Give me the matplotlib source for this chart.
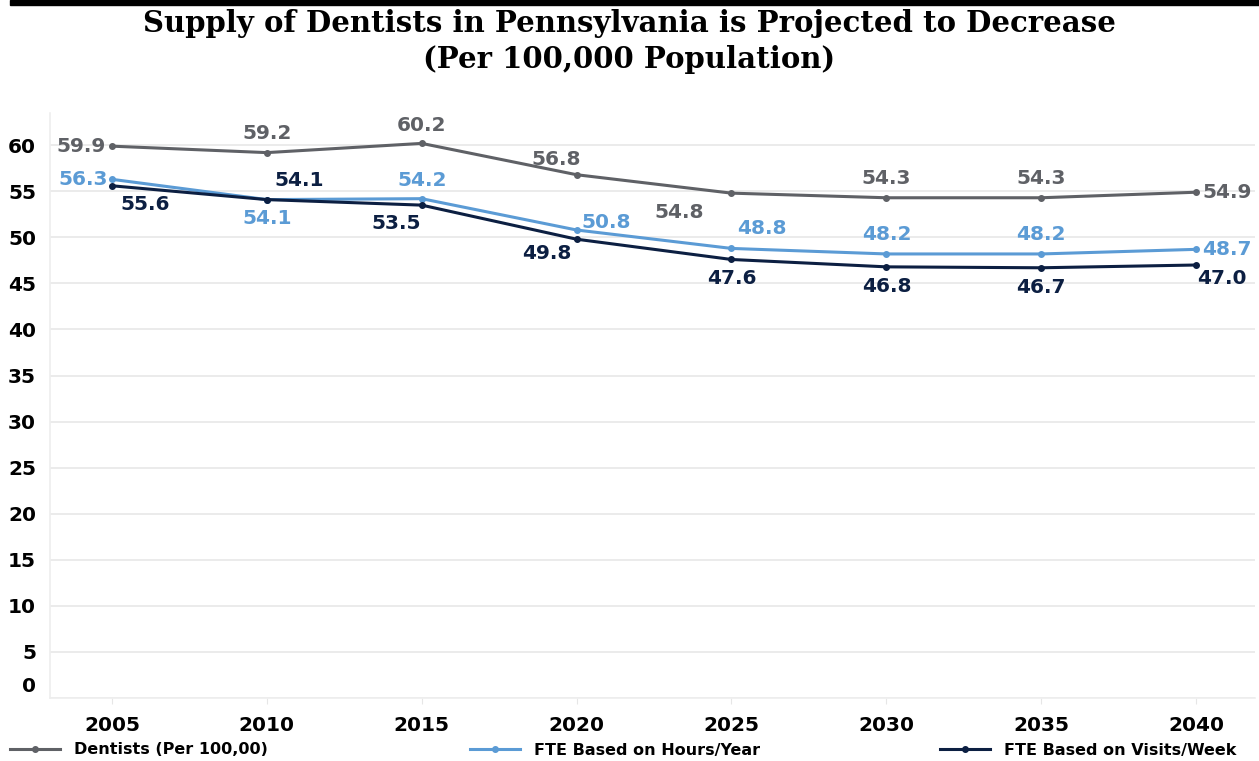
import matplotlib
matplotlib.use("Agg")
import matplotlib.pyplot as plt
import matplotlib.transforms as mtransforms
from matplotlib.patches import Rectangle

years = [2005, 2010, 2015, 2020, 2025, 2030, 2035, 2040]
dentists = [59.9, 59.2, 60.2, 56.8, 54.8, 54.3, 54.3, 54.9]
fte_hours = [56.3, 54.1, 54.2, 50.8, 48.8, 48.2, 48.2, 48.7]
fte_visits = [55.6, 54.1, 53.5, 49.8, 47.6, 46.8, 46.7, 47.0]
series_names = ["Dentists (Per 100,00)", "FTE Based on Hours/Year", "FTE Based on Visits/Week"]

c_gray = "#5f6166"
c_light = "#5b9bd5"
c_dark = "#0c1f42"

# label offsets (pixels) and alignment for each point
off_dent = [(-6, 0, "right", "center"), (0, 10, "center", "bottom"), (0, 8, "center", "bottom"),
            (-20, 6, "center", "bottom"), (-52, -10, "center", "top"), (0, 10, "center", "bottom"),
            (0, 10, "center", "bottom"), (6, 0, "left", "center")]
off_hours = [(-4, 0, "right", "center"), (0, -9, "center", "top"), (0, 9, "center", "bottom"),
             (30, -2, "center", "bottom"), (30, 10, "center", "bottom"), (0, 10, "center", "bottom"),
             (0, 10, "center", "bottom"), (6, 0, "left", "center")]
off_visits = [(33, -9, "center", "top"), (32, 10, "center", "bottom"), (-26, -9, "center", "top"),
              (-30, -5, "center", "top"), (0, -10, "center", "top"), (0, -10, "center", "top"),
              (0, -10, "center", "top"), (26, -4, "center", "top")]

plt.rcParams["font.family"] = "DejaVu Sans"
fig = plt.figure(figsize=(12.59, 7.61), dpi=100)
ax = fig.add_axes([50 / 1259, 63 / 761, 1205 / 1259, 585 / 761])

for vals, col, offs, name in [(dentists, c_gray, off_dent, series_names[0]),
                              (fte_hours, c_light, off_hours, series_names[1]),
                              (fte_visits, c_dark, off_visits, series_names[2])]:
    ax.plot(years, vals, color=col, lw=2.2, marker="o", ms=4, label=name, zorder=3)
    for x, y, (dx, dy, ha, va) in zip(years, vals, offs):
        ax.annotate(f"{y:.1f}", (x, y), xytext=(dx, dy), textcoords="offset pixels",
                    ha=ha, va=va, color=col, fontsize=14.5, fontweight="bold", zorder=4)

ax.set_xlim(2003.0, 2041.9)
ax.set_ylim(0, 63.5)
ax.set_xticks(years)
ax.set_yticks(range(0, 61, 5))
ax.tick_params(axis="x", length=4, color="#e6e6e6", pad=9, labelsize=14.5)
ax.tick_params(axis="y", length=0, pad=10, labelsize=14.5)
for lab in ax.get_xticklabels() + ax.get_yticklabels():
    lab.set_fontweight("bold")
ax.grid(axis="y", color="#e8e8e8", lw=1.2)
ax.set_axisbelow(True)
for s in ["top", "right"]:
    ax.spines[s].set_visible(False)
for s in ["left", "bottom"]:
    ax.spines[s].set_color("#eeeeee")
    ax.spines[s].set_linewidth(1.2)

# the "0" label sits a little above the baseline
zero_lab = ax.yaxis.get_major_ticks()[0].label1
zero_lab.set_transform(zero_lab.get_transform()
                       + mtransforms.ScaledTranslation(0, 13 / 100, fig.dpi_scale_trans))

# title and rule above it
fig.patches.append(Rectangle((10 / 1259, 756 / 761), 1, 5 / 761, transform=fig.transFigure,
                             color="black", zorder=5))
fig.text(0.5, 737 / 761, "Supply of Dentists in Pennsylvania is Projected to Decrease",
         ha="center", va="center", fontsize=21, fontweight="bold", family="DejaVu Serif")
fig.text(0.5, 701 / 761, "(Per 100,000 Population)",
         ha="center", va="center", fontsize=21, fontweight="bold", family="DejaVu Serif")

# one legend entry per column along the bottom
handles, labels = ax.get_legend_handles_labels()
for h, l, xpos in zip(handles, labels, [10 / 1259, 470 / 1259, 940 / 1259]):
    fig.legend([h], [l], loc="center left", bbox_to_anchor=(xpos, 11 / 761), frameon=False,
               prop={"size": 11.5, "weight": "bold"}, handlelength=3.1, borderpad=0,
               borderaxespad=0, handletextpad=0.9)

fig.savefig("out.png", dpi=100)
